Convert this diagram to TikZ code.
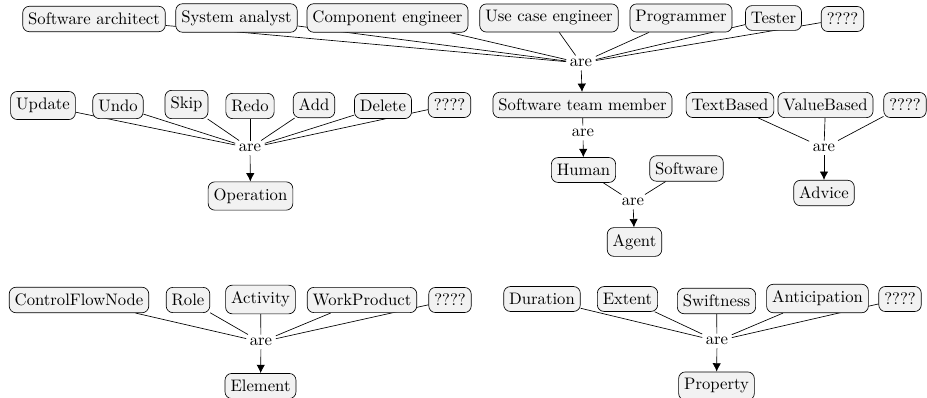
\documentclass[tikz,border=0pt]{standalone}
\usepackage{amsmath,amssymb}
\usepackage{tikz}
\usetikzlibrary{arrows.meta, positioning, backgrounds}

\begin{document}
\begin{tikzpicture}[
      x=0.6pt, y=-0.6pt,
      concept/.style={rectangle, draw, rounded corners=4pt, fill=gray!10, inner xsep=3.3pt, inner ysep=4pt},
      are/.style={inner sep=2pt},
      link/.style={thin},
      arrow/.style={-{Latex[length=5pt,width=5pt]}, thin}
    ]
      \useasboundingbox (0,0) rectangle (927,398);

      % Row 0: team roles
      \node[concept] (arch) at (94,19) {Software architect};
      \node[concept] (analyst) at (236.5,18) {System analyst};
      \node[concept] (compeng) at (387.5,18) {Component engineer};
      \node[concept] (uceng) at (549,18) {Use case engineer};
      \node[concept] (prog) at (681,18) {Programmer};
      \node[concept] (tester) at (773.5,18) {Tester};
      \node[concept] (roleq) at (842.5,19) {????};
      \node[are] (areteam) at (581,63) {are};

      % Row 1: operations
      \node[concept] (update) at (43,105.5) {Update};
      \node[concept] (undo) at (118,106) {Undo};
      \node[concept] (skip) at (186.5,104.5) {Skip};
      \node[concept] (redo) at (250,106) {Redo};
      \node[concept] (add) at (314,105) {Add};
      \node[concept] (delete) at (383,106) {Delete};
      \node[concept] (opq) at (449.5,105) {????};
      \node[are] (areop) at (250,148) {are};
      \node[concept] (oper) at (250.5,196) {Operation};

      % Row 1: team member / agent
      \node[concept] (member) at (582.5,105) {Software team member};
      \node[are] (aremember) at (583,133) {are};
      \node[concept] (human) at (583.5,170) {Human};
      \node[concept] (software) at (686.5,168.5) {Software};
      \node[are] (areagent) at (633,202) {are};
      \node[concept] (agent) at (634.5,242) {Agent};

      % Row 1: advice
      \node[concept] (textb) at (730,105) {TextBased};
      \node[concept] (valueb) at (825.5,105) {ValueBased};
      \node[concept] (adviceq) at (905,105) {????};
      \node[are] (areadvice) at (824,148) {are};
      \node[concept] (advice) at (824,193) {Advice};

      % Row 2: elements
      \node[concept] (cfnode) at (79,300) {ControlFlowNode};
      \node[concept] (role) at (188,300) {Role};
      \node[concept] (activity) at (260.5,299.5) {Activity};
      \node[concept] (workprod) at (362,300) {WorkProduct};
      \node[concept] (elemq) at (450,300) {????};
      \node[are] (areelem) at (261,342) {are};
      \node[concept] (element) at (260.5,386) {Element};

      % Row 2: properties
      \node[concept] (duration) at (542,299) {Duration};
      \node[concept] (extent) at (627.5,299) {Extent};
      \node[concept] (swift) at (716.5,301) {Swiftness};
      \node[concept] (antic) at (817.5,298.5) {Anticipation};
      \node[concept] (propq) at (900,299) {????};
      \node[are] (areprop) at (717,341) {are};
      \node[concept] (property) at (716.5,386) {Property};

      % === LINKS (behind the boxes) ===
      \begin{scope}[on background layer]
      % team roles
      \draw[link] (arch) -- (areteam);
      \draw[link] (analyst) -- (areteam);
      \draw[link] (compeng) -- (areteam);
      \draw[link] (uceng) -- (areteam);
      \draw[link] (prog) -- (areteam);
      \draw[link] (tester) -- (areteam);
      \draw[link] (roleq) -- (areteam);

      % operations
      \draw[link] (update) -- (areop);
      \draw[link] (undo) -- (areop);
      \draw[link] (skip) -- (areop);
      \draw[link] (redo) -- (areop);
      \draw[link] (add) -- (areop);
      \draw[link] (delete) -- (areop);
      \draw[link] (opq) -- (areop);

      % member / agent
      \draw[link] (member) -- (aremember);
      \draw[link] (human) -- (areagent);
      \draw[link] (software) -- (areagent);

      % advice
      \draw[link] (textb) -- (areadvice);
      \draw[link] (valueb) -- (areadvice);
      \draw[link] (adviceq) -- (areadvice);

      % elements
      \draw[link] (cfnode) -- (areelem);
      \draw[link] (role) -- (areelem);
      \draw[link] (activity) -- (areelem);
      \draw[link] (workprod) -- (areelem);
      \draw[link] (elemq) -- (areelem);

      % properties
      \draw[link] (duration) -- (areprop);
      \draw[link] (extent) -- (areprop);
      \draw[link] (swift) -- (areprop);
      \draw[link] (antic) -- (areprop);
      \draw[link] (propq) -- (areprop);
      \end{scope}

      % === ARROWS ===
      \draw[arrow] (areteam) -- (member);
      \draw[arrow] (areop) -- (oper);
      \draw[arrow] (aremember) -- (human);
      \draw[arrow] (areagent) -- (agent);
      \draw[arrow] (areadvice) -- (advice);
      \draw[arrow] (areelem) -- (element);
      \draw[arrow] (areprop) -- (property);
    \end{tikzpicture}
\end{document}
